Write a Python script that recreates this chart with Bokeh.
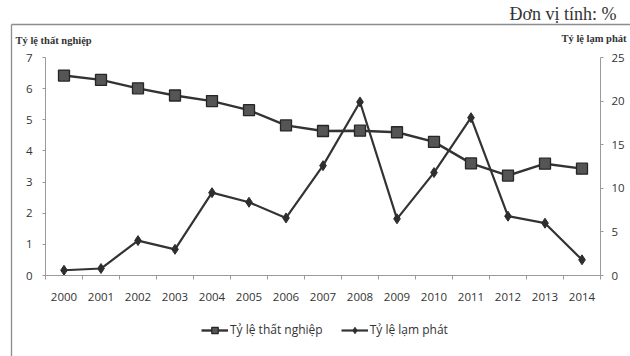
from bokeh.plotting import figure
from bokeh.models import (Range1d, LinearAxis, FixedTicker, Legend, LegendItem,
                          Label)
from bokeh.embed import file_html
from bokeh.resources import INLINE

years = ["2000", "2001", "2002", "2003", "2004", "2005", "2006", "2007",
         "2008", "2009", "2010", "2011", "2012", "2013", "2014"]
unemployment = [6.42, 6.28, 6.01, 5.78, 5.60, 5.31, 4.82, 4.64,
                4.65, 4.60, 4.29, 3.60, 3.21, 3.59, 3.43]
inflation = [0.6, 0.8, 4.0, 3.0, 9.5, 8.4, 6.6, 12.6,
             19.9, 6.5, 11.8, 18.1, 6.8, 6.0, 1.8]
left_ticks = [0, 1, 2, 3, 4, 5, 6, 7]
right_ticks = [0, 5, 10, 15, 20, 25]
series_names = ["Tỷ lệ thất nghiệp", "Tỷ lệ lạm phát"]
axis_titles = ["Tỷ lệ thất nghiệp", "Tỷ lệ lạm phát"]
unit_text = "Đơn vị tính: %"

xs = list(range(len(years)))

# ---- layout (pixels in a 630x356 canvas; the frame fills the whole canvas)
W, H = 630, 356
PL, PR, PT, PB = 45, 600, 57, 275          # plot-area edges
BOX_L, BOX_T = 11, 24                      # chart box corner
n = len(years)
xppu = (PR - PL) / n
x_lo = -0.5 - PL / xppu
x_hi = n - 0.5 + (W - PR) / xppu
L_MAX, R_MAX = 7, 25
lppu = (PB - PT) / L_MAX
rppu = (PB - PT) / R_MAX
y_lo = -(H - PB) / lppu
y_hi = L_MAX + PT / lppu

FONT = "Open Sans"
SERIF = "Liberation Serif"
AX = "#9a9a9a"
TXT = "#333333"
LC = "#333333"
BOX = "#8c8c8c"

p = figure(width=W, height=H, output_backend="svg", toolbar_location=None,
           x_range=Range1d(x_lo, x_hi), y_range=Range1d(y_lo, y_hi),
           min_border=0, min_border_left=0, min_border_right=0,
           min_border_top=0, min_border_bottom=0,
           background_fill_color="white", border_fill_color="white",
           outline_line_color=None)
p.extra_y_ranges = {"right": Range1d(-(H - PB) / rppu, R_MAX + PT / rppu)}
p.grid.visible = False

# thin grey border of the chart box (only its left and top edges fall on the page)
bx = x_lo + BOX_L / xppu
by = y_hi - BOX_T / lppu
p.segment(x0=[bx, bx], y0=[by, by], x1=[x_hi + 1, bx], y1=[by, y_lo - 1],
          line_color=BOX, line_width=1.3)

p.xaxis.fixed_location = 0
p.xaxis.bounds = (-0.5, n - 0.5)
p.xaxis.ticker = FixedTicker(ticks=xs, minor_ticks=[i - 0.5 for i in range(n + 1)])
p.xaxis.major_label_overrides = {i: y for i, y in zip(xs, years)}
p.xaxis.major_tick_line_color = None
p.xaxis.minor_tick_out = 4
p.xaxis.minor_tick_in = 0
p.xaxis.minor_tick_line_color = AX
p.xaxis.axis_line_color = AX
p.xaxis.major_label_text_font = FONT
p.xaxis.major_label_text_font_size = "11.5px"
p.xaxis.major_label_text_color = TXT
p.xaxis.major_label_standoff = 11

p.yaxis.fixed_location = -0.5
p.yaxis.bounds = (0, L_MAX)
p.yaxis.ticker = FixedTicker(ticks=left_ticks, minor_ticks=[])
p.yaxis.axis_line_color = AX
p.yaxis.major_tick_line_color = AX
p.yaxis.major_tick_out = 3
p.yaxis.major_tick_in = 0
p.yaxis.major_label_text_font = FONT
p.yaxis.major_label_text_font_size = "11.5px"
p.yaxis.major_label_text_color = TXT
p.yaxis.major_label_standoff = 10

ra = LinearAxis(y_range_name="right", fixed_location=n - 0.5, bounds=(0, R_MAX),
                ticker=FixedTicker(ticks=right_ticks, minor_ticks=[]),
                axis_line_color=AX, major_tick_line_color=AX, major_tick_out=3,
                major_tick_in=0, major_label_text_font=FONT,
                major_label_text_font_size="11.5px", major_label_text_color=TXT,
                major_label_standoff=8)
p.add_layout(ra, "right")

l1 = p.line(xs, unemployment, line_color=LC, line_width=2.4)
s1 = p.scatter(xs, unemployment, marker="square", size=11, fill_color="#555555",
               line_color="#262626", line_width=1.3)
l2 = p.line(xs, inflation, y_range_name="right", line_color=LC, line_width=2.2)
s2 = p.scatter(xs, inflation, y_range_name="right", marker="diamond", size=10,
               fill_color="#2e2e2e", line_color="#2e2e2e")

p.add_layout(Label(x=509, y=H - 13, x_units="screen", y_units="screen",
                   text=unit_text, text_font=SERIF, text_baseline="middle",
                   text_font_size="18px", text_color=TXT))
p.add_layout(Label(x=15, y=H - 40, x_units="screen", y_units="screen",
                   text=axis_titles[0], text_font=SERIF, text_baseline="middle",
                   text_font_size="10.5px", text_font_style="bold", text_color=TXT))
p.add_layout(Label(x=561, y=H - 38, x_units="screen", y_units="screen",
                   text=axis_titles[1], text_font=SERIF, text_baseline="middle",
                   text_font_size="10.5px", text_font_style="bold", text_color=TXT))

legend = Legend(items=[LegendItem(label=series_names[0], renderers=[l1, s1]),
                       LegendItem(label=series_names[1], renderers=[l2, s2])],
                orientation="horizontal", location=(201, H - 338),
                label_text_font=FONT, label_text_font_size="12px",
                label_text_color=TXT, glyph_width=27, glyph_height=16,
                label_standoff=2, spacing=18, padding=0,
                border_line_color=None, background_fill_alpha=0, margin=0)
p.add_layout(legend, "center")

open("out.html", "w").write(file_html(p, INLINE))
